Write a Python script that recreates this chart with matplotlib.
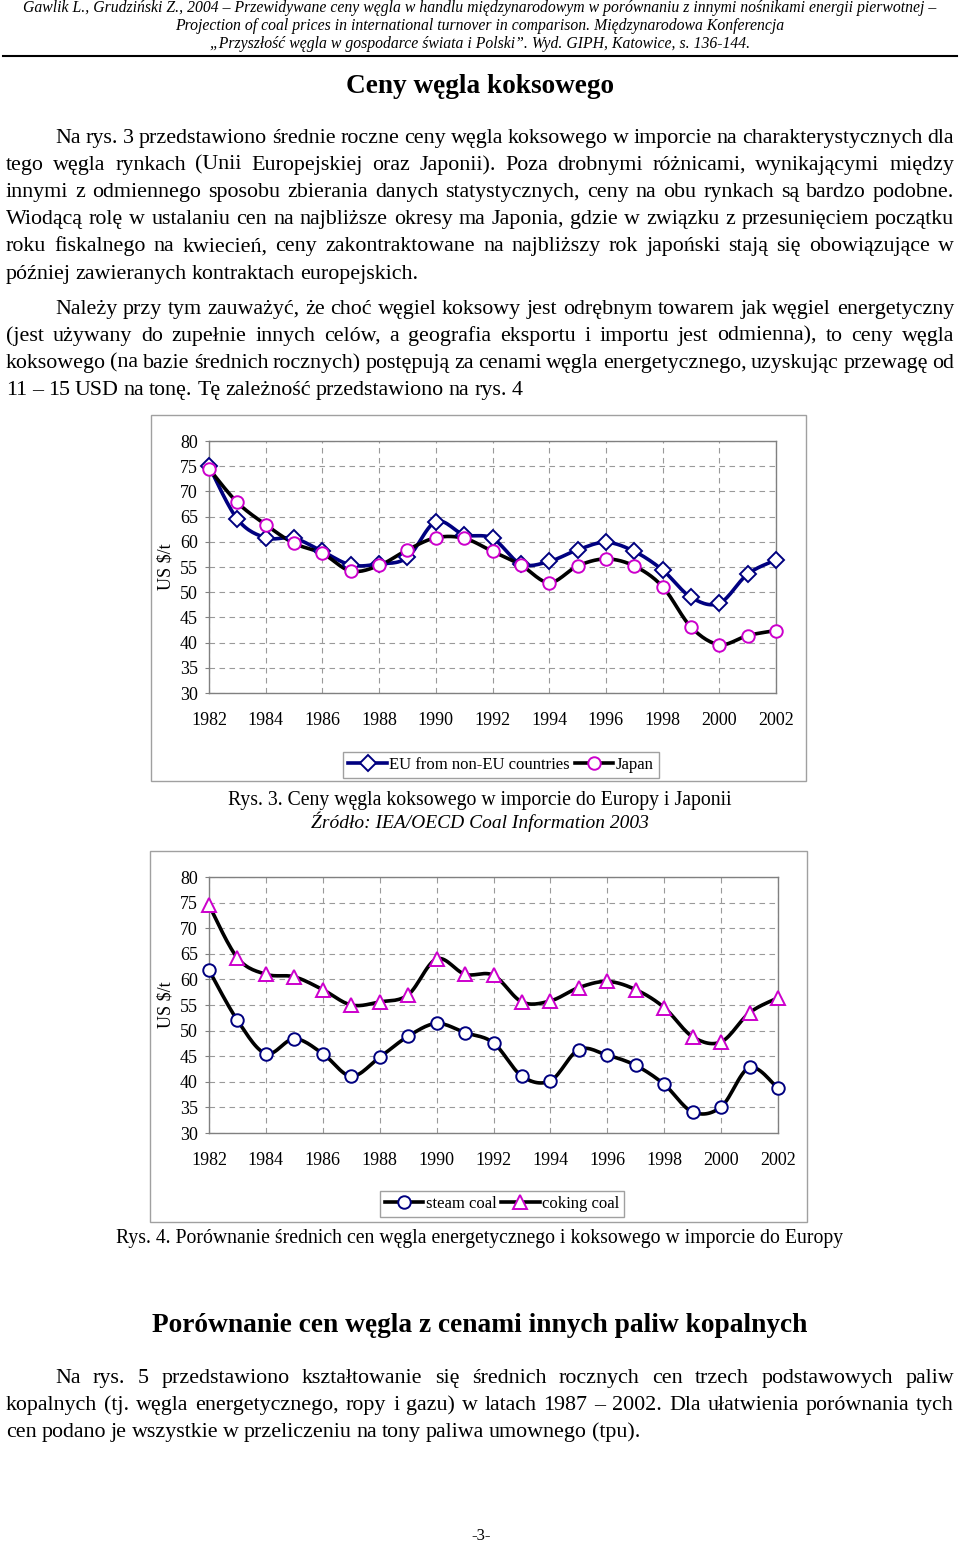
import numpy as np
import matplotlib
matplotlib.use("Agg")
import matplotlib.pyplot as plt
from matplotlib.patches import Rectangle
from matplotlib.lines import Line2D

plt.rcParams["font.family"] = ["Liberation Serif", "DejaVu Serif"]

# --- dane ---
years = list(range(1982, 2003))
eu_non_eu = [75.0, 64.5, 60.8, 60.7, 58.1, 55.4, 55.6, 56.9, 64.0, 61.4, 60.7,
             55.6, 56.1, 58.4, 59.9, 58.1, 54.4, 49.0, 47.8, 53.6, 56.4]
japan = [74.5, 67.8, 63.4, 59.7, 57.7, 54.2, 55.3, 58.4, 60.8, 60.7, 58.1,
         55.4, 51.9, 55.2, 56.6, 55.2, 51.1, 43.1, 39.6, 41.4, 42.4]
steam_coal = [61.8, 52.0, 45.5, 48.4, 45.5, 41.1, 44.8, 48.9, 51.4, 49.6, 47.6,
              41.1, 40.2, 46.3, 45.2, 43.2, 39.5, 34.1, 35.1, 42.8, 38.7]
coking_coal = [74.5, 64.2, 61.0, 60.5, 58.0, 55.0, 55.6, 57.0, 64.0, 61.0, 60.8,
               55.6, 55.8, 58.4, 59.6, 58.0, 54.5, 48.8, 47.8, 53.5, 56.4]

W, H = 960, 1546
fig = plt.figure(figsize=(W / 100, H / 100), dpi=100)
bg = fig.add_axes([0, 0, 1, 1])
bg.set_xlim(0, W)
bg.set_ylim(H, 0)
bg.axis("off")
renderer = fig.canvas.get_renderer()


def text_width(s, size, **kw):
    t = bg.text(0, 0, s, fontsize=size, **kw)
    w = t.get_window_extent(renderer).width
    t.remove()
    return w


def fit(s, width, **kw):
    return 10 * width / text_width(s, 10, **kw)


def centered(s, y, width, x=480, **kw):
    size = fit(s, width, **kw)
    bg.text(x, y + 0.25 * size * 100 / 72, s, fontsize=size, ha="center", va="baseline", **kw)
    return size


def justify(s, x0, x1, y, size, last=False):
    em = size * 100 / 72
    words = s.split()
    ts = [bg.text(0, y + 0.25 * em, w, fontsize=size, va="baseline") for w in words]
    ws = [t.get_window_extent(renderer).width for t in ts]
    gap = 0.22 * em if last else (x1 - x0 - sum(ws)) / (len(words) - 1)
    x = x0
    for t, w in zip(ts, ws):
        t.set_x(x)
        x += w + gap


def paragraph(lines, y0, size, step=27.2):
    for i, s in enumerate(lines):
        justify(s, 55 if i == 0 else 6, 954, y0 + i * step, size, last=(i == len(lines) - 1))


def smooth(xs, ys, n=16):
    p = np.column_stack([xs, ys]).astype(float)
    out = [p[0]]
    t = np.linspace(0, 1, n)[1:, None]
    for i in range(len(p) - 1):
        p0, p1, p2 = p[max(i - 1, 0)], p[i], p[i + 1]
        p3 = p[min(i + 2, len(p) - 1)]
        c1 = p1 + (p2 - p0) / 6
        c2 = p2 - (p3 - p1) / 6
        seg = (1 - t) ** 3 * p1 + 3 * (1 - t) ** 2 * t * c1 + 3 * (1 - t) * t ** 2 * c2 + t ** 3 * p2
        out.extend(seg)
    out = np.array(out)
    return out[:, 0], out[:, 1]


def chart(frame, box, series, legend_c):
    fx0, fy0, fx1, fy1 = frame
    bg.add_patch(Rectangle((fx0, fy0), fx1 - fx0, fy1 - fy0, fill=False, ec="#a0a0a0", lw=1))
    x0, y0, x1, y1 = box
    ax = fig.add_axes([x0 / W, 1 - y1 / H, (x1 - x0) / W, (y1 - y0) / H])
    handles = []
    for vals, lc, mk, ms, mec, label in series:
        sx, sy = smooth(years, vals)
        ax.plot(sx, sy, color=lc, lw=2.6, clip_on=False, zorder=3)
        ax.plot(years, vals, ls="none", marker=mk, ms=ms, mfc="white", mec=mec, mew=1.4,
                clip_on=False, zorder=4)
        handles.append(Line2D([], [], color=lc, lw=2.6, marker=mk, ms=ms, mfc="white",
                              mec=mec, mew=1.4, label=label))
    ax.set_xlim(1982, 2002)
    ax.set_ylim(30, 80)
    ax.set_yticks(range(30, 81, 5))
    ax.set_xticks(range(1982, 2003, 2))
    ax.grid(True, color="#9a9a9a", ls=(0, (5, 4)), lw=0.8)
    ax.set_axisbelow(True)
    ax.tick_params(axis="y", length=3, color="#808080", labelsize=13, pad=5)
    ax.tick_params(axis="x", length=0, labelsize=13, pad=14)
    for sp in ax.spines.values():
        sp.set_color("#808080")
        sp.set_linewidth(1)
    bg.text(166, (y0 + y1) / 2, "US $/t", fontsize=13, rotation=90, ha="center", va="center")
    leg = fig.legend(handles=handles, ncol=2, loc="center",
                     bbox_to_anchor=(legend_c[0] / W, 1 - legend_c[1] / H),
                     frameon=True, fancybox=False, edgecolor="#a0a0a0", framealpha=1,
                     fontsize=12, handlelength=2.3, handletextpad=0.15,
                     columnspacing=0.3, borderpad=0.3)
    leg.get_frame().set_linewidth(1)


# --- nagłówek ---
head1 = "Gawlik L., Grudziński Z., 2004 – Przewidywane ceny węgla w handlu międzynarodowym w porównaniu z innymi nośnikami energii pierwotnej –"
hs = fit(head1, 912, style="italic")
for s, y in [(head1, 8),
             ("Projection of coal prices in international turnover in comparison. Międzynarodowa Konferencja", 26),
             ("„Przyszłość węgla w gospodarce świata i Polski”. Wyd. GIPH, Katowice, s. 136-144.", 44)]:
    bg.text(480, y + 0.25 * hs * 100 / 72, s, fontsize=hs, style="italic", ha="center", va="baseline")
bg.plot([3, 957], [56, 56], color="black", lw=1.5)

centered("Ceny węgla koksowego", 86, 269, weight="bold")

body = fit("Wiodącą rolę w ustalaniu cen na najbliższe okresy ma Japonia, gdzie w związku z przesunięciem początku", 943)

paragraph([
    "Na rys. 3 przedstawiono średnie roczne ceny węgla koksowego w imporcie na charakterystycznych dla",
    "tego węgla rynkach (Unii Europejskiej oraz Japonii). Poza drobnymi różnicami, wynikającymi między",
    "innymi z odmiennego sposobu zbierania danych statystycznych, ceny na obu rynkach są bardzo podobne.",
    "Wiodącą rolę w ustalaniu cen na najbliższe okresy ma Japonia, gdzie w związku z przesunięciem początku",
    "roku fiskalnego na kwiecień, ceny zakontraktowane na najbliższy rok japoński stają się obowiązujące w",
    "później zawieranych kontraktach europejskich.",
], 137, body)

paragraph([
    "Należy przy tym zauważyć, że choć węgiel koksowy jest odrębnym towarem jak węgiel energetyczny",
    "(jest używany do zupełnie innych celów, a geografia eksportu i importu jest odmienna), to ceny węgla",
    "koksowego (na bazie średnich rocznych) postępują za cenami węgla energetycznego, uzyskując przewagę od",
    "11 – 15 USD na tonę. Tę zależność przedstawiono na rys. 4",
], 308, body)

# --- rys. 3 ---
chart((151, 415, 806, 781), (209, 441, 776, 693),
      [(eu_non_eu, "#000080", "D", 8.5, "#000080", "EU from non-EU countries"),
       (japan, "black", "o", 9, "#cc00cc", "Japan")],
      (501, 765))
centered("Rys. 3. Ceny węgla koksowego w imporcie do Europy i Japonii", 800, 502)
centered("Źródło: IEA/OECD Coal Information 2003", 823, 339, style="italic")

# --- rys. 4 ---
chart((150, 851, 807, 1222), (209, 877, 778, 1133),
      [(steam_coal, "black", "o", 9, "#000080", "steam coal"),
       (coking_coal, "black", "^", 10, "#cc00cc", "coking coal")],
      (502, 1203.5))
centered("Rys. 4. Porównanie średnich cen węgla energetycznego i koksowego w imporcie do Europy", 1238, 724)

centered("Porównanie cen węgla z cenami innych paliw kopalnych", 1325, 657, weight="bold")

paragraph([
    "Na rys. 5 przedstawiono kształtowanie się średnich rocznych cen trzech podstawowych paliw",
    "kopalnych (tj. węgla energetycznego, ropy i gazu) w latach 1987 – 2002. Dla ułatwienia porównania tych",
    "cen podano je wszystkie w przeliczeniu na tony paliwa umownego (tpu).",
], 1377, body)

bg.text(481, 1536 + 4, "-3-", fontsize=12, ha="center", va="baseline")

fig.savefig("out.png", dpi=100)
